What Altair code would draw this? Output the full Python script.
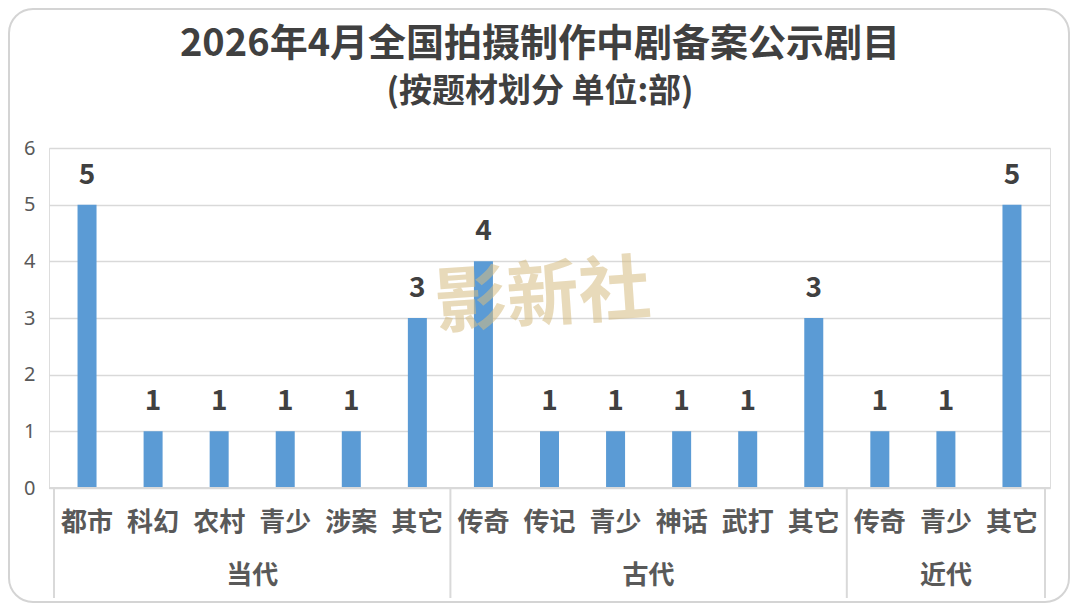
import altair as alt
import pandas as pd

# ---- data ----
groups = ["当代"] * 6 + ["古代"] * 6 + ["近代"] * 3
names = ["都市", "科幻", "农村", "青少", "涉案", "其它",
         "传奇", "传记", "青少", "神话", "武打", "其它",
         "传奇", "青少", "其它"]
values = [5, 1, 1, 1, 1, 3, 4, 1, 1, 1, 1, 3, 1, 1, 5]
group_order = ["当代", "古代", "近代"]
y_ticks = [0, 1, 2, 3, 4, 5, 6]
title_main = "2026年4月全国拍摄制作中剧备案公示剧目"
title_sub = "(按题材划分 单位:部)"
watermark = "影新社"

FONT = "Noto Sans CJK SC"
W, H = 1001, 340

df = pd.DataFrame({"idx": list(range(len(names))), "name": names,
                   "group": groups, "value": values})

g = df.groupby("group", sort=False)["idx"]
gdf = pd.DataFrame({"group": group_order,
                    "mid": [g.get_group(k).mean() for k in group_order]})
bounds = sorted({g.get_group(k).min() - 0.5 for k in group_order} |
                {g.get_group(k).max() + 0.5 for k in group_order})
sdf = pd.DataFrame({"b": bounds})

xscale = alt.Scale(domain=[-0.5, len(names) - 0.5], nice=False, zero=False)
xenc = alt.X("idx:Q", scale=xscale, axis=None)
yscale = alt.Scale(domain=[0, 6], nice=False)
yaxis = alt.Axis(values=y_ticks, title=None, format="d",
                 domain=False, ticks=False, grid=True,
                 gridColor="#d9d9d9", gridWidth=1.5,
                 labelFont="Noto Sans", labelFontSize=20,
                 labelColor="#595959", labelPadding=14)

base = alt.Chart(df)

bars = base.mark_bar(size=19, color="#5b9bd5").encode(
    x=xenc,
    y=alt.Y("value:Q", scale=yscale, axis=yaxis),
)

value_labels = base.mark_text(font=FONT, fontSize=28, fontWeight="bold",
                              color="#404040", baseline="alphabetic",
                              dy=-21).encode(
    x=xenc, y=alt.Y("value:Q", scale=yscale, axis=yaxis), text="value:Q")

cat_labels = base.mark_text(font=FONT, fontSize=26, fontWeight="bold",
                            color="#595959", baseline="middle").encode(
    x=xenc, y=alt.value(375), text="name:N")

group_labels = alt.Chart(gdf).mark_text(font=FONT, fontSize=26,
                                        fontWeight="bold", color="#595959",
                                        baseline="middle").encode(
    x=alt.X("mid:Q", scale=xscale, axis=None), y=alt.value(428),
    text="group:N")

seps = alt.Chart(sdf).mark_rule(color="#d9d9d9", strokeWidth=2).encode(
    x=alt.X("b:Q", scale=xscale, axis=None),
    y=alt.value(H), y2=alt.value(450))

baseline = alt.Chart(pd.DataFrame({"k": [0]})).mark_rule(
    color="#d9d9d9", strokeWidth=2).encode(
    y=alt.value(H), x=alt.value(0), x2=alt.value(W))

border = alt.Chart(pd.DataFrame({"k": [0]})).mark_rect(
    fillOpacity=0, stroke="#d4d4d4", strokeWidth=2, cornerRadius=24).encode(
    x=alt.value(-40), x2=alt.value(1020),
    y=alt.value(-139), y2=alt.value(454))

wm = alt.Chart(pd.DataFrame({"t": [watermark]})).mark_text(
    font=FONT, fontSize=72, fontWeight="bold", color="#d6bd83",
    opacity=0.55, baseline="middle", angle=356).encode(
    x=alt.value(494), y=alt.value(150), text="t:N")

t1 = alt.Chart(pd.DataFrame({"t": [title_main]})).mark_text(
    font=FONT, fontSize=38, fontWeight="bold", color="#404040",
    baseline="middle").encode(x=alt.value(491), y=alt.value(-103),
                              text="t:N")
t2 = alt.Chart(pd.DataFrame({"t": [title_sub]})).mark_text(
    font=FONT, fontSize=33, fontWeight="bold", color="#404040",
    baseline="middle").encode(x=alt.value(491), y=alt.value(-56),
                              text="t:N")

chart = alt.layer(border, bars, baseline, seps, value_labels, cat_labels,
                  group_labels, wm, t1, t2).properties(
    width=W, height=H,
    autosize=alt.AutoSizeParams(type="none"),
    padding={"left": 41, "top": 140, "right": 20, "bottom": 116},
).configure_view(strokeWidth=0, stroke="transparent").configure(
    background="white")

chart.save("out.html", embed_options={"renderer": "svg", "actions": False})
